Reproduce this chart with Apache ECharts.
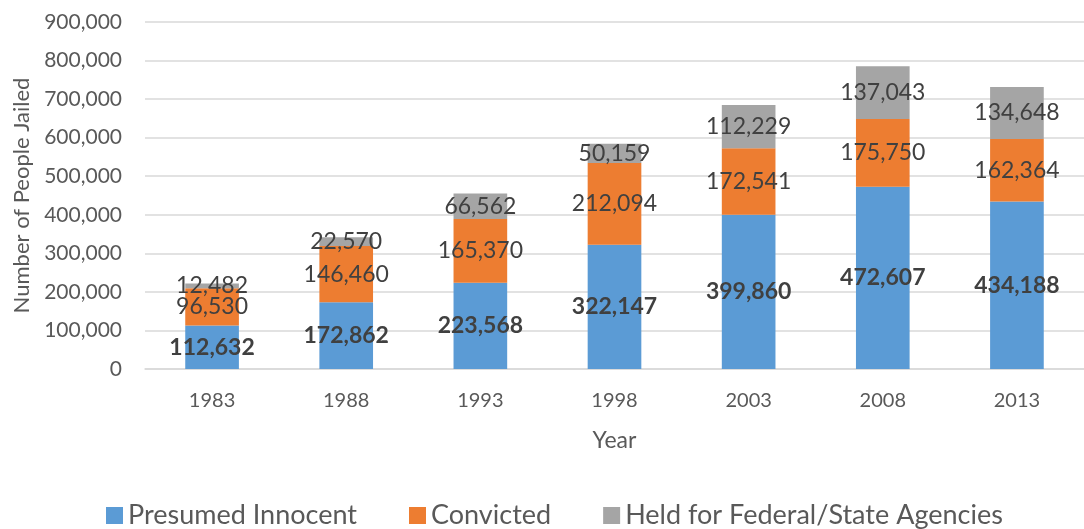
<!DOCTYPE html>
<html>
<head>
<meta charset="utf-8">
<script src="https://cdn.jsdelivr.net/npm/echarts@6/dist/echarts.min.js"></script>
<style>
  html, body { margin: 0; padding: 0; background: #fff; }
  #chart { width: 1084px; height: 529px; }
</style>
</head>
<body>
<div id="chart"></div>
<script>
const years = ["1983", "1988", "1993", "1998", "2003", "2008", "2013"];
const presumedInnocent = [112632, 172862, 223568, 322147, 399860, 472607, 434188];
const convicted = [96530, 146460, 165370, 212094, 172541, 175750, 162364];
const heldForAgencies = [12482, 22570, 66562, 50159, 112229, 137043, 134648];

const font = "Lato";
const fmt = v => v.toLocaleString("en-US");

const labelStyle = (bold) => ({
  show: true,
  position: "inside",
  color: "#404040",
  fontFamily: font,
  fontSize: 23,
  fontWeight: bold ? "bold" : "normal",
  formatter: p => fmt(p.value)
});

const chart = echarts.init(document.getElementById("chart"));
chart.setOption({
  animation: false,
  color: ["#5B9BD5", "#ED7D31", "#A5A5A5"],
  grid: { left: 145, top: 22, width: 948, height: 347 },
  legend: {
    top: 497,
    left: 101,
    itemWidth: 17,
    itemHeight: 17,
    itemGap: 52,
    icon: "rect",
    textStyle: { fontFamily: font, fontSize: 27, color: "#595959" }
  },
  xAxis: {
    type: "category",
    data: years,
    name: "Year",
    nameLocation: "middle",
    nameGap: 60,
    nameTextStyle: { fontFamily: font, fontSize: 23, color: "#595959" },
    axisLine: { lineStyle: { color: "#D9D9D9", width: 1.5 } },
    axisTick: { show: false },
    axisLabel: { margin: 22, fontFamily: font, fontSize: 20, color: "#595959" }
  },
  yAxis: {
    type: "value",
    min: 0,
    max: 900000,
    interval: 100000,
    name: "Number of People Jailed",
    nameLocation: "middle",
    nameGap: 112,
    nameTextStyle: { fontFamily: font, fontSize: 22, color: "#595959" },
    axisLine: { show: false },
    axisTick: { show: false },
    splitLine: { lineStyle: { color: "#D9D9D9", width: 1.5 } },
    axisLabel: { margin: 23, fontFamily: font, fontSize: 21, color: "#595959", formatter: v => fmt(v) }
  },
  series: [
    { name: "Presumed Innocent", type: "bar", stack: "total", barWidth: "40%", data: presumedInnocent, label: labelStyle(true) },
    { name: "Convicted", type: "bar", stack: "total", data: convicted, label: labelStyle(false) },
    { name: "Held for Federal/State Agencies", type: "bar", stack: "total", data: heldForAgencies, label: labelStyle(false) }
  ]
});
</script>
</body>
</html>
